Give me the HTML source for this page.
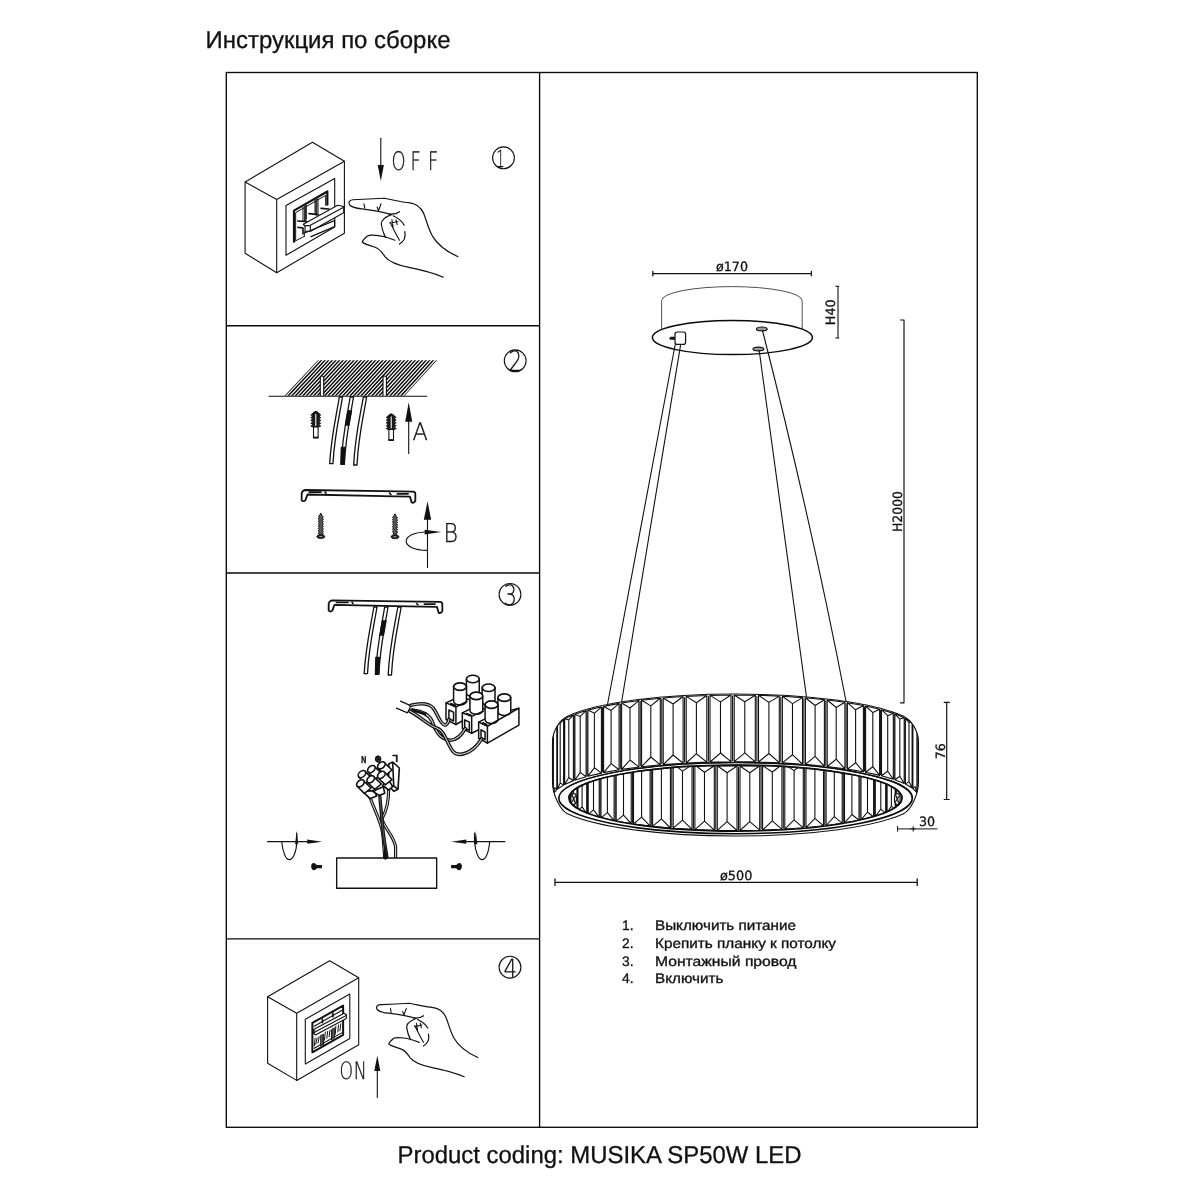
<!DOCTYPE html>
<html lang="ru">
<head>
<meta charset="utf-8">
<title>Инструкция по сборке — MUSIKA SP50W LED</title>
<style>
html,body{margin:0;padding:0;background:#fff;}
body{width:1200px;height:1200px;overflow:hidden;position:relative;font-family:"Liberation Sans",sans-serif;}
svg{position:absolute;left:0;top:0;display:block;text-rendering:geometricPrecision;will-change:transform;}
.s{fill:none;stroke:#111;stroke-width:1.1;stroke-linecap:round;stroke-linejoin:round;}
.t{fill:none;stroke:#222;stroke-width:0.8;stroke-linecap:round;stroke-linejoin:round;}
.f{fill:#111;stroke:none;}
.w{fill:#fff;stroke:#111;stroke-width:1.1;stroke-linejoin:round;}
text{font-family:"Liberation Sans",sans-serif;fill:#111;}
text.dim,.dim text{font-family:"DejaVu Sans","Liberation Sans",sans-serif;}
.cad{font-family:"DejaVu Sans","Liberation Sans",sans-serif;font-weight:200;fill:#111;}
</style>
</head>
<body>
<svg width="1200" height="1200" viewBox="0 0 1200 1200">
<!-- 00_frame.svg -->
<g id="frame" fill="none" stroke="#0a0a0a" stroke-width="1.35">
<rect x="226.3" y="72.5" width="751" height="1054.8"/>
<line x1="539.6" y1="72.5" x2="539.6" y2="1127.3"/>
<line x1="226.3" y1="325.7" x2="539.6" y2="325.7"/>
<line x1="226.3" y1="573" x2="539.6" y2="573"/>
<line x1="226.3" y1="938.9" x2="539.6" y2="938.9"/>
</g>
<!-- 01_text.svg -->
<g id="labels">
<text id="title" x="205.5" y="47.7" font-size="24.2" textLength="245" lengthAdjust="spacingAndGlyphs" stroke="#111" stroke-width="0.3">Инструкция по сборке</text>
<text id="footer" x="397.5" y="1162.8" font-size="24.4" textLength="404" lengthAdjust="spacingAndGlyphs" stroke="#111" stroke-width="0.3">Product coding: MUSIKA SP50W LED</text>
<g id="steps" font-size="13.8" fill="#1a1a1a" stroke="#1a1a1a" stroke-width="0.35">
<text x="622" y="929.8">1.</text><text x="655" y="929.8" textLength="141" lengthAdjust="spacingAndGlyphs">Выключить питание</text>
<text x="622" y="948">2.</text><text x="655" y="948" textLength="181" lengthAdjust="spacingAndGlyphs">Крепить планку к потолку</text>
<text x="622" y="965.8">3.</text><text x="655" y="965.8" textLength="141.5" lengthAdjust="spacingAndGlyphs">Монтажный провод</text>
<text x="622" y="983">4.</text><text x="655" y="983" textLength="68.5" lengthAdjust="spacingAndGlyphs">Включить</text>
</g>
</g>
<!-- 10_lamp.svg -->
<g id="lamp">
<g id="canopy">
<path class="t" d="M661.6 329 V300.6 A70.3 14 0 0 1 802.2 300.6 V329" stroke="#222" stroke-width="1.2"/>
<ellipse cx="732.4" cy="337.6" rx="80" ry="17" fill="#fff" stroke="#0a0a0a" stroke-width="1.5"/>
<path d="M671 338.2 h4" stroke="#111" stroke-width="3" stroke-linecap="round" fill="none"/>
<rect x="675" y="332" width="10.6" height="12.4" rx="2.2" fill="#fff" stroke="#111" stroke-width="1.2"/>
<ellipse cx="761.8" cy="328.9" rx="5.4" ry="1.9" fill="#999" stroke="#111" stroke-width="1.2"/>
<ellipse cx="758.4" cy="349" rx="5.4" ry="1.9" fill="#999" stroke="#111" stroke-width="1.2"/>
</g>
<g id="cables" class="s" stroke-width="1.15">
<path d="M675.2 344.5 Q641 526 607.6 704"/>
<path d="M680.6 344.8 Q651 526 621.6 702"/>
<path d="M759.2 350.5 Q783 530 806.5 697"/>
<path d="M762.5 330.5 Q811 520 846 701"/>
</g>
<g id="ring">
<clipPath id="ringIn"><ellipse cx="735.5" cy="798.1" rx="166.6" ry="33"/></clipPath>
<path class="s" clip-path="url(#ringIn)" stroke-width="1.4" stroke="#0a0a0a" d="M564.5 732.1 V797.8 M566 736.4 L569.8 740.2 L569.8 805.7 L566 801.9 Z M566 736.4 L567.6 740.3 L569.8 740.2 M566 801.9 L567.6 799.8 L569.8 805.7 M570.6 740.8 L576.9 744.6 L576.9 809.8 L570.6 806.2 Z M570.6 740.8 L573.4 745 L576.9 744.6 M570.6 806.2 L573.4 803.8 L576.9 809.8 M573.4 745 V803.8 M578 745.1 L586.7 748.7 L586.7 813.8 L578 810.4 Z M578 745.1 L582.1 750.1 L586.7 748.7 M578 810.4 L582.1 806.9 L586.7 813.8 M582.1 750.1 V806.9 M588.2 749.2 L599.2 752.5 L599.2 817.4 L588.2 814.3 Z M588.2 749.2 L593.5 754.8 L599.2 752.5 M588.2 814.3 L593.5 809.9 L599.2 817.4 M593.5 754.8 V809.9 M601 752.9 L614.1 755.9 L614.1 820.7 L601 817.9 Z M601 752.9 L607.4 759.2 L614.1 755.9 M601 817.9 L607.4 812.6 L614.1 820.7 M607.4 759.2 V812.6 M616.2 756.3 L631.2 758.9 L631.2 823.6 L616.2 821.2 Z M616.2 756.3 L623.5 763 L631.2 758.9 M616.2 821.2 L623.5 815.1 L631.2 823.6 M623.5 763 V815.1 M633.5 759.3 L650.1 761.4 L650.1 826.1 L633.5 824 Z M633.5 759.3 L641.6 766.3 L650.1 761.4 M633.5 824 L641.6 817.1 L650.1 826.1 M641.6 766.3 V817.1 M652.6 761.7 L670.4 763.4 L670.4 828 L652.6 826.4 Z M652.6 761.7 L661.4 769 L670.4 763.4 M652.6 826.4 L661.4 818.8 L670.4 828 M661.4 769 V818.8 M673.2 763.7 L692 764.9 L692 829.4 L673.2 828.2 Z M673.2 763.7 L682.5 771.1 L692 764.9 M673.2 828.2 L682.5 820.1 L692 829.4 M682.5 771.1 V820.1 M694.9 765 L714.3 765.7 L714.3 830.2 L694.9 829.6 Z M694.9 765 L704.5 772.2 L714.3 765.7 M694.9 829.6 L704.5 821.2 L714.3 830.2 M704.5 772.2 V821.2 M717.3 765.8 L737 766 L737 830.5 L717.3 830.3 Z M717.3 765.8 L727.1 772.8 L737 766 M717.3 830.3 L727.1 821.7 L737 830.5 M727.1 772.8 V821.7 M740 766 L759.7 765.7 L759.7 830.2 L740 830.5 Z M740 766 L749.8 772.7 L759.7 765.7 M740 830.5 L749.8 821.6 L759.7 830.2 M749.8 772.7 V821.6 M762.6 765.6 L781.9 764.7 L781.9 829.3 L762.6 830.1 Z M762.6 765.6 L772.3 772 L781.9 764.7 M762.6 830.1 L772.3 820.9 L781.9 829.3 M772.3 772 V820.9 M784.8 764.6 L803.3 763.2 L803.3 827.8 L784.8 829.1 Z M784.8 764.6 L794.1 770.6 L803.3 763.2 M784.8 829.1 L794.1 819.8 L803.3 827.8 M794.1 770.6 V819.8 M806 763 L823.5 761.1 L823.5 825.8 L806 827.6 Z M806 763 L814.9 768.4 L823.5 761.1 M806 827.6 L814.9 818.4 L823.5 825.8 M814.9 768.4 V818.4 M826.1 760.8 L842.2 758.5 L842.2 823.3 L826.1 825.5 Z M826.1 760.8 L834.3 765.5 L842.2 758.5 M826.1 825.5 L834.3 816.6 L842.2 823.3 M834.3 765.5 V816.6 M844.5 758.2 L859 755.5 L859 820.3 L844.5 822.9 Z M844.5 758.2 L851.9 762.1 L859 755.5 M844.5 822.9 L851.9 814.5 L859 820.3 M851.9 762.1 V814.5 M861 755 L873.6 752 L873.6 817 L861 819.9 Z M861 755 L867.5 758.1 L873.6 752 M861 819.9 L867.5 812 L873.6 817 M867.5 758.1 V812 M875.3 751.5 L885.7 748.1 L885.7 813.3 L875.3 816.5 Z M875.3 751.5 L880.8 753.6 L885.7 748.1 M875.3 816.5 L880.8 809.2 L885.7 813.3 M880.8 753.6 V809.2 M887.1 747.6 L895.2 744 L895.2 809.3 L887.1 812.8 Z M887.1 747.6 L891.4 748.8 L895.2 744 M887.1 812.8 L891.4 806.1 L895.2 809.3 M891.4 748.8 V806.1 M896.3 743.5 L901.9 739.7 L901.9 805.1 L896.3 808.7 Z M896.3 743.5 L899.4 743.6 L901.9 739.7 M896.3 808.7 L899.4 802.9 L901.9 805.1 M902.6 739.1 V804.5 M905.9 734.6 V800.2"/>
<path class="s" clip-path="url(#ringIn)" stroke-width="1.4" stroke="#444" stroke-linecap="butt" d="M587.5 749.9 V813 M600.1 753.7 V816.7 M615.2 757.1 V819.9 M632.4 760.1 V822.8 M651.3 762.6 V825.2 M671.8 764.5 V827.1 M693.4 765.9 V828.5 M715.8 766.8 V829.3 M738.5 767 V829.5 M761.1 766.6 V829.1 M783.3 765.6 V828.2 M804.7 764.1 V826.7 M824.8 762 V824.6 M843.3 759.3 V822.1 M860 756.2 V819.1 M874.4 752.7 V815.7 M886.4 748.9 V812"/>
<g clip-path="url(#ringIn)" class="s" stroke-width="1.1" stroke="#111">
<ellipse cx="573.7" cy="799" rx="2.9" ry="5.6" fill="#ddd"/>
<path d="M571.9 794.5 L575.5 803.5 M575.7 796 L571.7 802"/>
<ellipse cx="897.3" cy="799" rx="2.9" ry="5.6" fill="#ddd"/>
<path d="M895.5 794.5 L899.1 803.5 M899.3 796 L895.3 802"/>
</g>
<path d="M558.7 798.1 a176.8 35.6 0 1 0 353.6 0 a176.8 35.6 0 1 0 -353.6 0 Z M568.9 798.1 a166.6 33 0 1 1 333.2 0 a166.6 33 0 1 1 -333.2 0 Z" fill="#fff" fill-rule="evenodd" stroke="#0a0a0a" stroke-width="1.6"/>
<clipPath id="ringSil"><path d="M552.5 742 C552.5 730 560.5 719.6 567.5 716.3 A183 37 0 0 1 903.5 716.3 C910.5 719.6 918.5 730 918.5 742 V782 C918.5 795 910.5 810.4 903.5 813.7 A183 37 0 0 1 567.5 813.7 C560.5 810.4 552.5 795 552.5 782 Z"/></clipPath>
<g clip-path="url(#ringSil)">
<path d="M550.5 690 H920.5 V798.1 A176.8 35.6 0 0 0 558.7 798.1 Z" fill="#fff" stroke="none"/>
<path class="s" stroke-width="1.4" stroke="#0a0a0a" d="M552.5 731.4 V796.7 M553.4 728.3 L556.8 724.1 L556.8 789.7 L553.4 793.7 Z M553.4 728.3 L554.8 728.2 L556.8 724.1 M553.4 793.7 L554.8 787.7 L556.8 789.7 M557.5 723.4 L563.6 719.3 L563.6 785.1 L557.5 789 Z M557.5 723.4 L560.2 723.5 L563.6 719.3 M557.5 789 L560.2 782.9 L563.6 785.1 M560.2 723.5 V782.9 M564.7 718.7 L573.4 714.8 L573.4 780.8 L564.7 784.5 Z M564.7 718.7 L568.8 719.9 L573.4 714.8 M564.7 784.5 L568.8 777.5 L573.4 780.8 M568.8 719.9 V777.5 M574.9 714.3 L586.1 710.6 L586.1 776.7 L574.9 780.2 Z M574.9 714.3 L580.2 716.4 L586.1 710.6 M574.9 780.2 L580.2 772.4 L586.1 776.7 M580.2 716.4 V772.4 M587.9 710.1 L601.4 706.8 L601.4 773.1 L587.9 776.2 Z M587.9 710.1 L594.4 713.3 L601.4 706.8 M587.9 776.2 L594.4 767.8 L601.4 773.1 M594.4 713.3 V767.8 M603.6 706.4 L619.1 703.4 L619.1 769.8 L603.6 772.6 Z M603.6 706.4 L611.1 710.4 L619.1 703.4 M603.6 772.6 L611.1 763.6 L619.1 769.8 M611.1 710.4 V763.6 M621.6 703 L638.9 700.6 L638.9 767.1 L621.6 769.4 Z M621.6 703 L630 708 L638.9 700.6 M621.6 769.4 L630 760 L638.9 767.1 M630 708 V760 M641.6 700.2 L660.3 698.3 L660.3 764.8 L641.6 766.7 Z M641.6 700.2 L650.8 705.9 L660.3 698.3 M641.6 766.7 L650.8 757 L660.3 764.8 M650.8 705.9 V757 M663.2 698 L683.1 696.5 L683.1 763.2 L663.2 764.6 Z M663.2 698 L673.1 704 L683.1 696.5 M663.2 764.6 L673.1 755 L683.1 763.2 M673.1 704 V755 M686.2 696.4 L706.8 695.5 L706.8 762.1 L686.2 763 Z M686.2 696.4 L696.4 702.7 L706.8 695.5 M686.2 763 L696.4 753.7 L706.8 762.1 M696.4 702.7 V753.7 M710 695.4 L731 695 L731 761.7 L710 762 Z M710 695.4 L720.5 701.9 L731 695 M710 762 L720.5 753 L731 761.7 M720.5 701.9 V753 M734.2 695 L755.3 695.2 L755.3 761.9 L734.2 761.7 Z M734.2 695 L744.8 701.8 L755.3 695.2 M734.2 761.7 L744.8 752.9 L755.3 761.9 M744.8 701.8 V752.9 M758.5 695.3 L779.3 696.1 L779.3 762.7 L758.5 762 Z M758.5 695.3 L768.9 702.4 L779.3 696.1 M758.5 762 L768.9 753.5 L779.3 762.7 M768.9 702.4 V753.5 M782.4 696.2 L802.5 697.6 L802.5 764.2 L782.4 762.9 Z M782.4 696.2 L792.5 703.6 L802.5 697.6 M782.4 762.9 L792.5 754.7 L802.5 764.2 M792.5 703.6 V754.7 M805.4 697.8 L824.4 699.7 L824.4 766.2 L805.4 764.4 Z M805.4 697.8 L815.1 705.5 L824.4 699.7 M805.4 764.4 L815.1 756.4 L824.4 766.2 M815.1 705.5 V756.4 M827.2 700 L844.9 702.3 L844.9 768.8 L827.2 766.5 Z M827.2 700 L836.2 707.5 L844.9 702.3 M827.2 766.5 L836.2 759.2 L844.9 768.8 M836.2 707.5 V759.2 M847.4 702.7 L863.4 705.5 L863.4 771.8 L847.4 769.1 Z M847.4 702.7 L855.6 709.8 L863.4 705.5 M847.4 769.1 L855.6 762.7 L863.4 771.8 M855.6 709.8 V762.7 M865.6 706 L879.6 709.2 L879.6 775.4 L865.6 772.3 Z M865.6 706 L872.8 712.6 L879.6 709.2 M865.6 772.3 L872.8 766.7 L879.6 775.4 M872.8 712.6 V766.7 M881.5 709.7 L893.3 713.3 L893.3 779.3 L881.5 775.8 Z M881.5 709.7 L887.7 715.7 L893.3 713.3 M881.5 775.8 L887.7 771.3 L893.3 779.3 M887.7 715.7 V771.3 M894.9 713.8 L904.2 717.7 L904.2 783.5 L894.9 779.8 Z M894.9 713.8 L899.8 719.1 L904.2 717.7 M894.9 779.8 L899.8 776.3 L904.2 783.5 M899.8 719.1 V776.3 M905.4 718.2 L912.1 722.3 L912.1 788 L905.4 784.1 Z M905.4 718.2 L909 722.7 L912.1 722.3 M905.4 784.1 L909 781.6 L912.1 788 M909 722.7 V781.6 M912.9 722.9 L916.9 727.1 L916.9 792.6 L912.9 788.6 Z M912.9 722.9 L915.2 727 L916.9 727.1 M912.9 788.6 L915.2 786.6 L916.9 792.6 M917.3 727.8 V793.2"/>
<path class="s" stroke-width="1.5" stroke="#3a3a3a" stroke-linecap="butt" d="M574.1 715.5 V779.5 M587 711.4 V775.5 M602.5 707.6 V771.8 M620.3 704.2 V768.6 M640.2 701.4 V765.9 M661.8 699.1 V763.7 M684.6 697.5 V762.1 M708.4 696.4 V761.1 M732.6 696 V760.7 M756.9 696.3 V760.9 M780.8 697.2 V761.8 M803.9 698.7 V763.3 M825.8 700.8 V765.3 M846.1 703.5 V767.9 M864.5 706.8 V771 M880.6 710.4 V774.6 M894.1 714.5 V778.5"/>
</g>
<path class="s" stroke-width="1.6" stroke="#0a0a0a" d="M558.7 798.1 A176.8 35.6 0 0 1 912.3 798.1"/>
<path class="s" stroke-width="1.5" stroke="#0a0a0a" d="M568.9 798.1 A166.6 33 0 0 1 902.1 798.1"/>
<path class="s" stroke-width="1.6" stroke="#0a0a0a" d="M552.5 742 C552.5 730 560.5 719.6 567.5 716.3 A183 37 0 0 1 903.5 716.3 C910.5 719.6 918.5 730 918.5 742 V782 C918.5 795 910.5 810.4 903.5 813.7 A183 37 0 0 1 567.5 813.7 C560.5 810.4 552.5 795 552.5 782 Z"/>
</g>
<g id="dims" class="s" stroke="#111" stroke-width="1.1" stroke-linecap="butt">
<path d="M652.8 273.6 H811.4 M652.8 271.4 v4.4 M811.4 271.4 v4.4" stroke-width="1.3"/>
<path d="M838 286.3 V338 M835.8 286.3 h3 M835.8 338 h3"/>
<path d="M904 320 V702.8 M900.5 320 h3.5 M900.5 702.8 h3.5" stroke-width="1.15"/>
<path d="M946.7 702.4 V799.5 M944.2 702.4 h5 M944.2 799.5 h5" stroke-width="1.2"/>
<path d="M897.6 828.9 H937 M897.6 826.4 v5 M913.2 826.6 v4.6 M911 828.9 h4.4" stroke-width="1"/>
<path d="M555 882.4 H917.2 M555 879 v6.4 M917.2 879 v6.4" stroke-width="1.3"/>
</g>
<g id="dimtext" class="dim" font-size="12.8" fill="#111" stroke="#111" stroke-width="0.3">
<text x="716" y="270.6" textLength="32" lengthAdjust="spacingAndGlyphs">ø170</text>
<text x="720" y="880.4" textLength="32.4" lengthAdjust="spacingAndGlyphs">ø500</text>
<text x="919" y="826.3" textLength="16.2" lengthAdjust="spacingAndGlyphs">30</text>
<text transform="translate(835.3 325.2) rotate(-90)" textLength="25.8" lengthAdjust="spacingAndGlyphs">H40</text>
<text transform="translate(901.6 532) rotate(-90)" textLength="41" lengthAdjust="spacingAndGlyphs">H2000</text>
<text transform="translate(944.6 759.3) rotate(-90)" textLength="16" lengthAdjust="spacingAndGlyphs">76</text>
</g>
</g>
<!-- 20_panel1.svg -->
<g id="panel1">
<!-- switch box -->
<g class="s" stroke-width="1.3">
<path d="M245.1 182 L312.4 142.3 L344.4 161.3 V233.2 L276.7 272.7 L245.1 253.3 Z"/>
<path d="M245.1 182 L276.7 199.5 L344.4 161.3 M276.7 199.5 V272.7"/>
<path d="M286 205.5 L334.7 178.4 V227 L286 255.2 Z"/>
</g>
<!-- zoom frame: x=275+zx/15, y=170+zy/15 -->
<g transform="translate(275 170) scale(0.0666667)" class="s" style="vector-effect:non-scaling-stroke">
<path vector-effect="non-scaling-stroke" stroke-width="2.2" d="M285 1075 V610 L785 322 V520"/>
<path vector-effect="non-scaling-stroke" stroke-width="1" d="M310 1050 V640 L760 380 V530 M285 1075 L430 1000 M440 1000 V930"/>
<path vector-effect="non-scaling-stroke" stroke-width="2" stroke="#333" d="M450 540 V760 M620 440 V670"/>
<path vector-effect="non-scaling-stroke" stroke-width="1" d="M420 560 V770 M470 530 V740 M600 450 V650 M645 430 V650"/>
<path vector-effect="non-scaling-stroke" stroke-width="1.6" d="M340 765 L480 775 M510 655 L650 670 M690 575 L810 585 M345 860 L420 870 V960"/>
<!-- toggle bar -->
<path vector-effect="non-scaling-stroke" stroke-width="1.1" fill="#fff" d="M425 815 L940 530 L1030 548 V640 L540 915 L450 920 V838 Z"/>
<path vector-effect="non-scaling-stroke" stroke-width="1.1" d="M450 838 L530 830 L1030 558 M530 830 V912 M425 815 L450 838 M540 915 L530 912"/>
<path vector-effect="non-scaling-stroke" stroke-width="1.2" d="M445 945 L890 760 M895 750 V850 L540 1000 "/>
</g>
<!-- arrow + OFF -->
<path class="s" stroke-width="1.2" d="M380.8 138.2 V168"/>
<path class="f" d="M380.8 181 L377.7 165 H383.9 Z"/>
<text id="off" class="cad" transform="translate(0 170.3) scale(0.7 1)" x="559.3 586.4 611.4" y="0" font-size="25.6" stroke="#111" stroke-width="0.3">OFF</text>
<!-- hand -->
<g class="s" transform="translate(340 130) scale(0.1166667)">
<path vector-effect="non-scaling-stroke" stroke-width="1.2" d="M440 725 C400 712 330 695 220 680 C160 672 110 672 85 645 C70 625 75 600 110 598 C200 595 300 590 380 585 C460 600 520 618 600 625 C650 632 690 660 715 710 C740 770 755 840 790 905 C830 975 910 1040 1010 1085"/>
<path vector-effect="non-scaling-stroke" stroke-width="1.2" d="M470 945 C420 925 370 910 330 905 C290 900 250 900 235 908 C215 925 195 945 190 960 C205 975 250 990 300 1005 C345 1020 360 1050 385 1085 C420 1130 500 1160 600 1180 C700 1200 800 1225 885 1262"/>
<path vector-effect="non-scaling-stroke" stroke-width="1.2" d="M440 725 C390 745 350 770 355 810 C360 850 370 880 390 920"/>
<path vector-effect="non-scaling-stroke" stroke-width="1.2" d="M420 720 C460 725 490 715 510 700 M455 735 C500 755 530 780 550 815 M555 870 C565 910 555 950 510 978"/>
<path vector-effect="non-scaling-stroke" stroke-width="1.1" d="M428 790 C450 830 470 880 510 945 M430 800 L495 785 M445 770 L455 835 M480 770 L490 810"/>
<path vector-effect="non-scaling-stroke" stroke-width="1.1" d="M205 632 L212 668 M352 632 L330 692 M318 660 L330 692"/>
</g>
<!-- step number -->
<circle cx="503.5" cy="157.8" r="10.9" class="s" stroke-width="1.3"/>
<text class="cad num" x="496.2" y="166.7" font-size="23.5" textLength="8.5" lengthAdjust="spacingAndGlyphs" stroke="#111" stroke-width="0.3">1</text>
</g>
<!-- 30_panel2.svg -->
<g id="panel2">
<clipPath id="ceil"><path d="M318 360.3 H437 L404.5 395.8 H284.5 Z"/></clipPath>
<path clip-path="url(#ceil)" d="M318.3 359.8 L284.2 396.3 M321.9 359.8 L287.8 396.3 M325.5 359.8 L291.5 396.3 M329.1 359.8 L295.1 396.3 M332.7 359.8 L298.7 396.3 M336.3 359.8 L302.4 396.3 M339.9 359.8 L306 396.3 M343.5 359.8 L309.7 396.3 M347.1 359.8 L313.3 396.3 M350.8 359.8 L316.9 396.3 M354.4 359.8 L320.6 396.3 M358 359.8 L324.2 396.3 M361.6 359.8 L327.8 396.3 M365.2 359.8 L331.5 396.3 M368.8 359.8 L335.1 396.3 M372.4 359.8 L338.7 396.3 M376 359.8 L342.4 396.3 M379.6 359.8 L346 396.3 M383.2 359.8 L349.7 396.3 M386.8 359.8 L353.3 396.3 M390.4 359.8 L356.9 396.3 M394 359.8 L360.6 396.3 M397.6 359.8 L364.2 396.3 M401.2 359.8 L367.8 396.3 M404.8 359.8 L371.5 396.3 M408.5 359.8 L375.1 396.3 M412.1 359.8 L378.7 396.3 M415.7 359.8 L382.4 396.3 M419.3 359.8 L386 396.3 M422.9 359.8 L389.7 396.3 M426.5 359.8 L393.3 396.3 M430.1 359.8 L396.9 396.3 M433.7 359.8 L400.6 396.3 M437.3 359.8 L404.2 396.3" fill="none" stroke="#0a0a0a" stroke-width="1.45"/>
<path class="w" stroke-width="1.1" d="M320.3 395.8 V377.4 Q322 374.6 323.7 377.4 V395.8 M383 395.8 V377.4 Q384.7 374.6 386.4 377.4 V395.8"/>
<path class="s" stroke-width="1.6" stroke="#0a0a0a" stroke-linecap="butt" d="M269 396.3 H426.8"/>
<g class="s">
<g transform="translate(260 350) scale(0.1666667)">
<path vector-effect="non-scaling-stroke" stroke-width="1.3" fill="#fff" d="M476 282 C457 400 427 520 418 682 H438 C446 520 476 400 495 282 Z"/>
<path vector-effect="non-scaling-stroke" stroke-width="1.3" fill="#fff" d="M541 282 C522 400 494 520 486 686 H506 C514 520 542 400 561 282 Z"/>
<path vector-effect="non-scaling-stroke" stroke-width="1.3" fill="#fff" d="M620 282 C600 400 570 520 562 690 H582 C590 520 620 400 640 282 Z"/>
<path vector-effect="non-scaling-stroke" stroke="#111" stroke-width="1.3" fill="#111" d="M528 365 L549 365 Q542 405 534 450 L513 450 Q520 405 528 365 Z M488 585 H509 Q506 640 506 686 H486 Q486 640 488 585 Z"/>
</g>
</g>
<path d="M314 412 Q315.8 410.5 317.6 412 L320.8 415 L318.8 415.8 L320.8 417.8 L318.8 418.6 L320.8 420.6 L318.8 421.4 L320.8 423.4 L318.8 424.2 L320.8 426.2 L318.8 427 L318.3 427 L313.3 427 L312.8 427 L310.8 426.2 L312.8 424.2 L310.8 423.4 L312.8 421.4 L310.8 420.6 L312.8 418.6 L310.8 417.8 L312.8 415.8 L310.8 415 Z" fill="#1a1a1a" stroke="#111" stroke-width="0.8" stroke-linejoin="round"/>
<path d="M315.8 414 V426" stroke="#fff" stroke-width="1.1" fill="none"/>
<rect x="313.5" y="427" width="4.6" height="10.6" fill="#fff" stroke="#111" stroke-width="1.1"/>
<path d="M313.1 437.6 h5.4" stroke="#111" stroke-width="1.8" fill="none"/>
<path d="M389.4 414.5 Q391.2 413 393 414.5 L396.2 417.5 L394.2 418.3 L396.2 420.3 L394.2 421.1 L396.2 423.1 L394.2 423.9 L396.2 425.9 L394.2 426.7 L396.2 428.7 L394.2 429.5 L393.7 429.5 L388.7 429.5 L388.2 429.5 L386.2 428.7 L388.2 426.7 L386.2 425.9 L388.2 423.9 L386.2 423.1 L388.2 421.1 L386.2 420.3 L388.2 418.3 L386.2 417.5 Z" fill="#1a1a1a" stroke="#111" stroke-width="0.8" stroke-linejoin="round"/>
<path d="M391.2 416.5 V428.5" stroke="#fff" stroke-width="1.1" fill="none"/>
<rect x="388.9" y="429.5" width="4.6" height="10.6" fill="#fff" stroke="#111" stroke-width="1.1"/>
<path d="M388.5 440.1 h5.4" stroke="#111" stroke-width="1.8" fill="none"/>
<path class="s" stroke-width="1.2" d="M408.7 414 V453.4"/>
<path class="f" d="M408.7 402.3 L405.2 421.8 H412.2 Z"/>
<text class="cad" x="412.6" y="440" font-size="24" textLength="15.4" lengthAdjust="spacingAndGlyphs" stroke="#111" stroke-width="0.3">A</text>
<g class="s">
<g transform="translate(280 470) scale(0.1666667)">
<path vector-effect="non-scaling-stroke" stroke-width="1.8" fill="#fff" d="M150 120 L800 130 Q812 132 812 145 V185 Q805 200 790 195 L780 160 L165 147 L152 182 Q140 192 130 182 V140 Q135 122 150 120 Z"/>
<path vector-effect="non-scaling-stroke" stroke-width="1.6" stroke-linecap="butt" d="M172 133 H250 M268 128 L278 142 M655 136 L668 150 M700 143 H772"/>
</g>
</g>
<path d="M320.8 513 L322.4 516 L323.4 517.2 L322.3 518 L323.4 519.6 L322.3 520.4 L323.4 522 L322.3 522.8 L323.4 524.4 L322.3 525.2 L323.4 526.8 L322.3 527.6 L323.4 529.2 L322.3 530 L323.4 531.6 L322.3 532.4 L323.4 534 L322.3 534.8 L322.3 535.1 L319.3 535.1 L319.3 534.4 L318.2 533.4 L319.3 532 L318.2 531 L319.3 529.6 L318.2 528.6 L319.3 527.2 L318.2 526.2 L319.3 524.8 L318.2 523.8 L319.3 522.4 L318.2 521.4 L319.3 520 L318.2 519 L319.3 517.6 L318.2 516.6 L319.2 516 Z" fill="#555" stroke="#111" stroke-width="0.9" stroke-linejoin="round"/>
<ellipse cx="320.8" cy="536.6" rx="4" ry="1.9" fill="#222" stroke="#111" stroke-width="0.9"/>
<path d="M319.3 536.6 h3" stroke="#ddd" stroke-width="0.7" fill="none"/>
<path d="M395 513.8 L396.6 516.8 L397.6 518 L396.5 518.8 L397.6 520.4 L396.5 521.2 L397.6 522.8 L396.5 523.6 L397.6 525.2 L396.5 526 L397.6 527.6 L396.5 528.4 L397.6 530 L396.5 530.8 L397.6 532.4 L396.5 533.2 L396.5 535.3 L393.5 535.3 L393.5 532.8 L392.4 531.8 L393.5 530.4 L392.4 529.4 L393.5 528 L392.4 527 L393.5 525.6 L392.4 524.6 L393.5 523.2 L392.4 522.2 L393.5 520.8 L392.4 519.8 L393.5 518.4 L392.4 517.4 L393.4 516.8 Z" fill="#555" stroke="#111" stroke-width="0.9" stroke-linejoin="round"/>
<ellipse cx="395" cy="536.8" rx="4" ry="1.9" fill="#222" stroke="#111" stroke-width="0.9"/>
<path d="M393.5 536.8 h3" stroke="#ddd" stroke-width="0.7" fill="none"/>
<g transform="translate(280 470) scale(0.1666667)">
<path class="s" vector-effect="non-scaling-stroke" stroke-width="1.2" d="M885 280 V585 M885 482 C800 482 755 455 757 425 C760 395 810 372 880 372"/>
<path class="f" d="M885 188 L863 298 H907 Z M968 372 L868 358 V387 Z"/>
</g>
<text class="cad" x="443.6" y="542.4" font-size="26" textLength="14.5" lengthAdjust="spacingAndGlyphs" stroke="#111" stroke-width="0.3">B</text>
<circle cx="515.2" cy="360.8" r="10.9" class="s" stroke-width="1.3"/>
<text class="cad num" x="508.6" y="371" font-size="28" textLength="13.6" lengthAdjust="spacingAndGlyphs" stroke="#111" stroke-width="0.3">2</text>
</g>
<!-- 40_panel3.svg -->
<g id="panel3">
<g class="s" transform="translate(34.5 210)">
<g transform="translate(260 350) scale(0.1666667)">
<path vector-effect="non-scaling-stroke" stroke-width="1.3" fill="#fff" d="M476 282 C457 400 427 520 418 682 H438 C446 520 476 400 495 282 Z"/>
<path vector-effect="non-scaling-stroke" stroke-width="1.3" fill="#fff" d="M541 282 C522 400 494 520 486 686 H506 C514 520 542 400 561 282 Z"/>
<path vector-effect="non-scaling-stroke" stroke-width="1.3" fill="#fff" d="M620 282 C600 400 570 520 562 690 H582 C590 520 620 400 640 282 Z"/>
<path vector-effect="non-scaling-stroke" stroke="#111" stroke-width="1.3" fill="#111" d="M528 365 L549 365 Q542 405 534 450 L513 450 Q520 405 528 365 Z M488 585 H509 Q506 640 506 686 H486 Q486 640 488 585 Z"/>
</g>
</g>
<g class="s" transform="translate(27 110.3)">
<g transform="translate(280 470) scale(0.1666667)">
<path vector-effect="non-scaling-stroke" stroke-width="1.8" fill="#fff" d="M150 120 L800 130 Q812 132 812 145 V185 Q805 200 790 195 L780 160 L165 147 L152 182 Q140 192 130 182 V140 Q135 122 150 120 Z"/>
<path vector-effect="non-scaling-stroke" stroke-width="1.6" stroke-linecap="butt" d="M172 133 H250 M268 128 L278 142 M655 136 L668 150 M700 143 H772"/>
</g>
</g>
<g transform="translate(390 665) scale(0.1166667)" class="s">
<path fill="#fff" vector-effect="non-scaling-stroke" stroke-width="1.5" d="M480 325 L600 270 L690 300 L690 440 L565 510 L480 468 Z"/>
<path fill="#fff" vector-effect="non-scaling-stroke" stroke-width="1.5" d="M655 120 V240 A55 32 0 0 0 765 240 V120"/><ellipse fill="#fff" vector-effect="non-scaling-stroke" stroke-width="1.7" cx="710" cy="120" rx="55" ry="32"/>
<path fill="#fff" vector-effect="non-scaling-stroke" stroke-width="1.5" d="M545 185 V310 A55 32 0 0 0 655 310 V185"/><ellipse fill="#fff" vector-effect="non-scaling-stroke" stroke-width="1.7" cx="600" cy="185" rx="55" ry="32"/>
<path fill="none" vector-effect="non-scaling-stroke" stroke-width="1.5" d="M480 325 L565 360 L660 312 M565 360 V510 M505 385 L545 405 V480 L505 460 Z M520 330 L560 345"/>
<path fill="#fff" vector-effect="non-scaling-stroke" stroke-width="1.5" d="M620 410 L740 350 L830 385 L830 520 L700 585 L620 545 Z"/>
<path fill="#fff" vector-effect="non-scaling-stroke" stroke-width="1.5" d="M790 195 V315 A55 32 0 0 0 900 315 V195"/><ellipse fill="#fff" vector-effect="non-scaling-stroke" stroke-width="1.7" cx="845" cy="195" rx="55" ry="32"/>
<path fill="#fff" vector-effect="non-scaling-stroke" stroke-width="1.5" d="M685 265 V390 A55 32 0 0 0 795 390 V265"/><ellipse fill="#fff" vector-effect="non-scaling-stroke" stroke-width="1.7" cx="740" cy="265" rx="55" ry="32"/>
<path fill="none" vector-effect="non-scaling-stroke" stroke-width="1.5" d="M620 410 L700 440 L800 395 M700 440 V585 M640 470 L680 490 V560 L640 540 Z M655 415 L695 430"/>
<path fill="#fff" vector-effect="non-scaling-stroke" stroke-width="1.5" d="M760 490 L880 430 L1105 370 L1105 515 L835 670 L760 628 Z"/>
<path fill="#fff" vector-effect="non-scaling-stroke" stroke-width="1.5" d="M925 280 V400 A55 32 0 0 0 1035 400 V280"/><ellipse fill="#fff" vector-effect="non-scaling-stroke" stroke-width="1.7" cx="980" cy="280" rx="55" ry="32"/>
<path fill="#fff" vector-effect="non-scaling-stroke" stroke-width="1.5" d="M815 340 V470 A55 32 0 0 0 925 470 V340"/><ellipse fill="#fff" vector-effect="non-scaling-stroke" stroke-width="1.7" cx="870" cy="340" rx="55" ry="32"/>
<path fill="none" vector-effect="non-scaling-stroke" stroke-width="1.5" d="M760 490 L835 525 L1105 370 M835 525 V670 M780 555 L815 575 V640 L780 620 Z M795 495 L830 510"/>
<path fill="#fff" vector-effect="non-scaling-stroke" stroke-width="1.2" d="M90 310 L180 350 L150 410 L55 370" />
<path vector-effect="non-scaling-stroke" fill="none" stroke="#111" stroke-width="3.6" d="M180 345 C260 325 330 320 370 370 C410 420 430 510 470 515 C490 515 500 490 505 465"/><path vector-effect="non-scaling-stroke" fill="none" stroke="#ccc" stroke-width="1.1" d="M180 345 C260 325 330 320 370 370 C410 420 430 510 470 515 C490 515 500 490 505 465"/>
<path vector-effect="non-scaling-stroke" fill="none" stroke="#111" stroke-width="3.6" d="M190 385 C270 395 335 420 360 480 C385 550 420 640 520 645 C580 640 620 590 645 545"/><path vector-effect="non-scaling-stroke" fill="none" stroke="#ccc" stroke-width="1.1" d="M190 385 C270 395 335 420 360 480 C385 550 420 640 520 645 C580 640 620 590 645 545"/>
<path vector-effect="non-scaling-stroke" fill="none" stroke="#111" stroke-width="3.6" d="M170 395 C300 470 330 520 400 540 C470 560 490 680 540 740 C580 790 700 770 785 635"/><path vector-effect="non-scaling-stroke" fill="none" stroke="#ccc" stroke-width="1.1" d="M170 395 C300 470 330 520 400 540 C470 560 490 680 540 740 C580 790 700 770 785 635"/>
<path vector-effect="non-scaling-stroke" fill="none" stroke="#111" stroke-width="2.6" d="M195 385 L300 420"/>
</g>
<g transform="translate(330 740) scale(0.1333333)" class="s">
<path vector-effect="non-scaling-stroke" fill="none" stroke="#111" stroke-width="3.2" d="M300 430 C330 520 380 600 395 700 C405 780 405 830 412 885"/><path vector-effect="non-scaling-stroke" fill="none" stroke="#ccc" stroke-width="1.1" d="M300 430 C330 520 380 600 395 700 C405 780 405 830 412 885"/>
<path vector-effect="non-scaling-stroke" fill="none" stroke="#111" stroke-width="3.2" d="M440 370 C440 470 420 540 390 590 C400 650 480 720 492 800 V885"/><path vector-effect="non-scaling-stroke" fill="none" stroke="#ccc" stroke-width="1.1" d="M440 370 C440 470 420 540 390 590 C400 650 480 720 492 800 V885"/>
<path vector-effect="non-scaling-stroke" fill="none" stroke="#111" stroke-width="3.3" d="M372 400 C380 500 390 600 400 700 C410 780 420 830 428 885"/><path vector-effect="non-scaling-stroke" fill="none" stroke="#555" stroke-width="1.1" d="M372 400 C380 500 390 600 400 700 C410 780 420 830 428 885"/>
<path fill="#fff" vector-effect="non-scaling-stroke" stroke-width="1.6" d="M440 180 L470 165 L520 210 L510 370 L480 385 L440 345 Z M470 165 L478 345 L510 370 M478 345 L440 345"/>
<path fill="#fff" vector-effect="non-scaling-stroke" stroke-width="1.6" d="M245 385 L300 440 L350 420 L330 380 Z M320 385 L370 415 L410 400 L400 350 Z M395 340 L440 375 L470 350 L440 300 Z"/>
<path fill="#fff" vector-effect="non-scaling-stroke" stroke-width="1.6" d="M360 212 L415 265 L465 225 L407 170 Z"/><ellipse fill="#fff" vector-effect="non-scaling-stroke" stroke-width="1.6" cx="385" cy="190" rx="32" ry="22" transform="rotate(-40 385 190)"/>
<path fill="#fff" vector-effect="non-scaling-stroke" stroke-width="1.6" d="M285 240 L340 293 L390 253 L332 198 Z"/><ellipse fill="#fff" vector-effect="non-scaling-stroke" stroke-width="1.6" cx="310" cy="218" rx="32" ry="22" transform="rotate(-40 310 218)"/>
<path fill="#fff" vector-effect="non-scaling-stroke" stroke-width="1.6" d="M215 277 L270 330 L320 290 L262 235 Z"/><ellipse fill="#fff" vector-effect="non-scaling-stroke" stroke-width="1.6" cx="240" cy="255" rx="32" ry="22" transform="rotate(-40 240 255)"/>
<path fill="#fff" vector-effect="non-scaling-stroke" stroke-width="1.6" d="M360 284 L415 337 L465 297 L407 242 Z"/><ellipse fill="#fff" vector-effect="non-scaling-stroke" stroke-width="1.6" cx="385" cy="262" rx="32" ry="22" transform="rotate(-40 385 262)"/>
<path fill="#fff" vector-effect="non-scaling-stroke" stroke-width="1.6" d="M280 317 L335 370 L385 330 L327 275 Z"/><ellipse fill="#fff" vector-effect="non-scaling-stroke" stroke-width="1.6" cx="305" cy="295" rx="32" ry="22" transform="rotate(-40 305 295)"/>
<path fill="#fff" vector-effect="non-scaling-stroke" stroke-width="1.6" d="M203 347 L258 400 L308 360 L250 305 Z"/><ellipse fill="#fff" vector-effect="non-scaling-stroke" stroke-width="1.6" cx="228" cy="325" rx="32" ry="22" transform="rotate(-40 228 325)"/>
<rect vector-effect="non-scaling-stroke" x="50" y="885" width="750" height="227" fill="#fff" stroke-width="1.35"/>
<path vector-effect="non-scaling-stroke" fill="#111" stroke="none" d="M395 885 L412 780 L432 885 Q420 905 405 893 Z"/>
</g>
<g font-size="10" font-weight="bold" fill="#111" stroke="#111" stroke-width="0.45">
<text x="361.2" y="763.2" textLength="5" lengthAdjust="spacingAndGlyphs">N</text>
<text x="374.4" y="762.4" font-size="9.5" textLength="7.2" lengthAdjust="spacingAndGlyphs">⊕</text>
<text transform="translate(398 754.6) rotate(180)" textLength="5.6" lengthAdjust="spacingAndGlyphs">L</text>
</g>
<g transform="translate(260 820) scale(0.2166667)">
<path class="s" vector-effect="non-scaling-stroke" stroke-width="1.15" d="M35 100 H230 M100 100 C105 150 120 183 135 183 C152 183 168 150 170 100 V60"/>
<path class="f" d="M287 100 L218 90 V110 Z M169 50 L162 112 H176 Z"/>
<path class="s" vector-effect="non-scaling-stroke" stroke-width="1.15" d="M1130 100 H940 M1060 100 C1056 150 1042 183 1025 183 C1010 183 994 150 990 100 V60"/>
<path class="f" d="M883 100 L952 90 V110 Z M996 50 L989 112 H1003 Z"/>
<path class="f" d="M236 215 C236 196 250 194 258 204 L262 208 H286 V223 H262 C255 236 238 236 236 215 Z"/>
<path class="f" d="M932 215 C932 196 918 194 910 204 L906 208 H882 V223 H906 C913 236 930 236 932 215 Z"/>
</g>
<circle cx="510" cy="594.4" r="10.9" class="s" stroke-width="1.3"/>
<text class="cad num" x="503.4" y="604.6" font-size="28" textLength="13.4" lengthAdjust="spacingAndGlyphs" stroke="#111" stroke-width="0.3">3</text>
</g>
<!-- 50_panel4.svg -->
<g id="panel4">
<g class="s" stroke-width="1.3">
<path d="M267.6 996.7 L329.7 960.7 L358.7 977.7 V1044.7 L296.7 1080.4 L267.6 1063.3 Z"/>
<path d="M267.6 996.7 L296.7 1013.3 L358.7 977.7 M296.7 1013.3 V1080.4"/>
<path d="M305.3 1019.3 L349.8 994 V1038.4 L305.3 1064 Z"/>
</g>
<!-- window: x=295+zx/17.143, y=990+zy/17.143 -->
<g transform="translate(295 990) scale(0.0583333)" class="s">
<path vector-effect="non-scaling-stroke" stroke-width="2" d="M298 565 L825 268 V770 L298 1068 Z"/>
<path vector-effect="non-scaling-stroke" stroke-width="1.1" d="M330 1000 L800 735 M330 620 L800 350"/>
<path vector-effect="non-scaling-stroke" stroke-width="1.8" stroke="#444" d="M465 770 V950 M650 660 V840"/>
<path vector-effect="non-scaling-stroke" stroke-width="1.6" d="M470 500 V560 M650 395 V460"/>
<path vector-effect="non-scaling-stroke" stroke-width="1" d="M440 780 V960 M490 760 V940 M625 680 V850 M675 650 V820"/>
<path vector-effect="non-scaling-stroke" stroke-width="1" d="M345 830 L330 960 M380 820 L355 930 M415 800 L395 910 M520 720 L505 860 M560 710 L545 830 M600 690 L585 800 M700 620 L690 760 M745 600 L735 720 M785 580 L770 700"/>
<path vector-effect="non-scaling-stroke" stroke-width="1.15" fill="#fff" d="M310 680 L840 400 L880 425 V490 L350 770 L320 745 Z"/>
<path vector-effect="non-scaling-stroke" stroke-width="1.1" d="M320 745 L350 715 L880 435 M350 715 L310 680"/>
</g>
<text id="on" class="cad" transform="translate(0 1079.4) scale(0.72 1)" x="471.5 491.4" y="0" font-size="24" stroke="#111" stroke-width="0.3">ON</text>
<path class="s" stroke-width="1.2" d="M377.3 1068 V1097.6"/>
<path class="f" d="M377.3 1055.6 L374.3 1071 H380.3 Z"/>
<g class="s" transform="translate(368.17 939.8) scale(0.1085)">
<path vector-effect="non-scaling-stroke" stroke-width="1.2" d="M440 725 C400 712 330 695 220 680 C160 672 110 672 85 645 C70 625 75 600 110 598 C200 595 300 590 380 585 C460 600 520 618 600 625 C650 632 690 660 715 710 C740 770 755 840 790 905 C830 975 910 1040 1010 1085"/>
<path vector-effect="non-scaling-stroke" stroke-width="1.2" d="M470 945 C420 925 370 910 330 905 C290 900 250 900 235 908 C215 925 195 945 190 960 C205 975 250 990 300 1005 C345 1020 360 1050 385 1085 C420 1130 500 1160 600 1180 C700 1200 800 1225 885 1262"/>
<path vector-effect="non-scaling-stroke" stroke-width="1.2" d="M440 725 C390 745 350 770 355 810 C360 850 370 880 390 920"/>
<path vector-effect="non-scaling-stroke" stroke-width="1.2" d="M420 720 C460 725 490 715 510 700 M455 735 C500 755 530 780 550 815 M555 870 C565 910 555 950 510 978"/>
<path vector-effect="non-scaling-stroke" stroke-width="1.1" d="M428 790 C450 830 470 880 510 945 M430 800 L495 785 M445 770 L455 835 M480 770 L490 810"/>
<path vector-effect="non-scaling-stroke" stroke-width="1.1" d="M205 632 L212 668 M352 632 L330 692 M318 660 L330 692"/>
</g>
<circle cx="510" cy="967.2" r="10.9" class="s" stroke-width="1.3"/>
<text class="cad num" x="503.6" y="976.6" font-size="25" textLength="13.6" lengthAdjust="spacingAndGlyphs" stroke="#111" stroke-width="0.3">4</text>
</g>
</svg>
</body>
</html>
